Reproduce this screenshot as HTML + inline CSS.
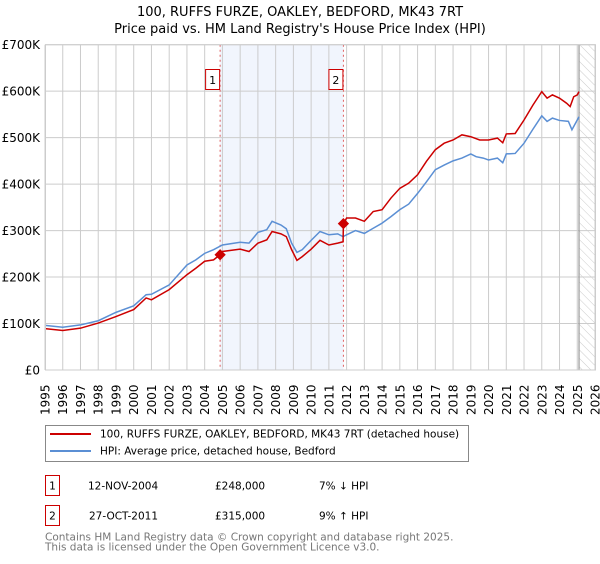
<!DOCTYPE html>
<html><head><meta charset="utf-8"><style>
body{margin:0;background:#fff;font-family:"DejaVu Sans","Liberation Sans",sans-serif;}
svg text{font-family:"DejaVu Sans","Liberation Sans",sans-serif;}
</style></head><body>
<svg id="chart" width="600" height="560" viewBox="0 0 600 560" xmlns="http://www.w3.org/2000/svg">
<defs><pattern id="hatch" width="6" height="6" patternUnits="userSpaceOnUse" patternTransform="rotate(-45)"><line x1="0" y1="0" x2="0" y2="6" stroke="#ccc" stroke-width="1"/></pattern></defs>
<text x="300" y="16" text-anchor="middle" font-size="13">100, RUFFS FURZE, OAKLEY, BEDFORD, MK43 7RT</text>
<text x="300" y="33" text-anchor="middle" font-size="13">Price paid vs. HM Land Registry's House Price Index (HPI)</text>
<g id="plot"></g>
<rect x="45.5" y="425.5" width="423" height="36" fill="#fff" stroke="#888"/>
<line x1="50" y1="434" x2="91" y2="434" stroke="#cc0000" stroke-width="2"/>
<text x="100" y="437.5" font-size="10.5">100, RUFFS FURZE, OAKLEY, BEDFORD, MK43 7RT (detached house)</text>
<line x1="50" y1="451" x2="91" y2="451" stroke="#5b8fd4" stroke-width="2"/>
<text x="100" y="454.5" font-size="10.5">HPI: Average price, detached house, Bedford</text>
<rect x="45.5" y="475.5" width="14" height="20" fill="#fff" stroke="#cc0000"/>
<text x="52.5" y="489.5" text-anchor="middle" font-size="10.5">1</text>
<text x="88" y="489.5" font-size="10.5">12-NOV-2004</text>
<text x="215" y="489.5" font-size="10.5">£248,000</text>
<text x="319" y="489.5" font-size="10.5">7% ↓ HPI</text>
<rect x="45.5" y="505.5" width="14" height="20" fill="#fff" stroke="#cc0000"/>
<text x="52.5" y="519.5" text-anchor="middle" font-size="10.5">2</text>
<text x="89" y="519.5" font-size="10.5">27-OCT-2011</text>
<text x="215" y="519.5" font-size="10.5">£315,000</text>
<text x="319" y="519.5" font-size="10.5">9% ↑ HPI</text>
<text x="45" y="540.5" font-size="10.5" fill="#777">Contains HM Land Registry data © Crown copyright and database right 2025.</text>
<text x="45" y="550.5" font-size="10.5" fill="#777">This data is licensed under the Open Government Licence v3.0.</text>
</svg>
<script>
const hpiYears=[1995,1996,1997,1998,1999,2000,2000.7,2001,2002,2003,2003.5,2004,2004.5,2005,2006,2006.5,2007,2007.5,2007.8,2008.3,2008.6,2008.9,2009.2,2009.5,2010,2010.5,2011,2011.5,2011.8,2012,2012.5,2013,2013.5,2014,2014.5,2015,2015.5,2016,2016.5,2017,2017.5,2018,2018.5,2019,2019.3,2019.7,2020,2020.5,2020.8,2021,2021.5,2022,2022.5,2023,2023.3,2023.6,2024,2024.5,2024.7,2025,2025.1];
const hpiValues=[96,92,97,106,124,138,162,163,183,226,237,251,259,269,275,273,296,302,320,312,304,273,253,259,279,298,291,293,287,291,300,294,305,316,330,345,357,380,405,431,441,450,456,465,459,456,452,456,446,465,466,488,518,547,535,542,537,535,517,538,545];
const propYears=[1995,1996,1997,1998,1999,2000,2000.7,2001,2002,2003,2003.5,2004,2004.5,2004.87,2005,2006,2006.5,2007,2007.5,2007.8,2008.3,2008.6,2008.9,2009.2,2009.5,2010,2010.5,2011,2011.5,2011.8,2011.82,2012,2012.5,2013,2013.5,2014,2014.5,2015,2015.5,2016,2016.5,2017,2017.5,2018,2018.5,2019,2019.5,2020,2020.5,2020.8,2021,2021.5,2022,2022.5,2023,2023.3,2023.6,2024,2024.4,2024.6,2024.8,2025,2025.1];
const propValues=[89,85,90,101,115,130,155,151,173,205,219,234,237,248,255,260,255,273,280,298,293,287,259,236,244,260,279,269,273,276,315,327,327,320,341,345,370,391,402,420,449,474,488,495,506,502,495,495,499,489,508,509,538,570,599,585,592,585,574,567,588,592,599];
const saleYears=[2004.87,2011.82];
const saleValues=[248,315];
const saleLabels=["1","2"];
const yTicks=[0,100,200,300,400,500,600,700];
const yTickLabels=["£0","£100K","£200K","£300K","£400K","£500K","£600K","£700K"];
const xTicks=[1995,1996,1997,1998,1999,2000,2001,2002,2003,2004,2005,2006,2007,2008,2009,2010,2011,2012,2013,2014,2015,2016,2017,2018,2019,2020,2021,2022,2023,2024,2025,2026];
const dataEnd=2025.1;

const L=45,R=595,T=44.7,B=370,X0=1995,X1=2026,YMAX=700;
const sx=v=>L+(v-X0)/(X1-X0)*(R-L);
const sy=v=>B-v/YMAX*(B-T);
const NS="http://www.w3.org/2000/svg";
const g=document.getElementById('plot');
function mk(tag,attrs){const e=document.createElementNS(NS,tag);for(const k in attrs)e.setAttribute(k,attrs[k]);g.appendChild(e);return e;}

let e=mk('rect',{x:sx(saleYears[0]),y:T,width:sx(saleYears[1])-sx(saleYears[0]),height:B-T,fill:'#eef3fc',opacity:0.8});


e=mk('rect',{x:sx(dataEnd),y:T,width:R-sx(dataEnd),height:B-T,fill:'url(#hatch)'});


xTicks.forEach((t,i)=>{
  const l=mk('line',{x1:sx(t),x2:sx(t),y1:T,y2:B,stroke:'#ccc','stroke-width':1});
  
  
  const tx=mk('text',{transform:`translate(${sx(t)+4.5},${B+45}) rotate(-90)`,'font-size':12});
  tx.textContent=t;
  
  
});
yTicks.forEach((t,i)=>{
  const l=mk('line',{x1:L,x2:R,y1:sy(t),y2:sy(t),stroke:'#ccc','stroke-width':1});
  
  
  const tx=mk('text',{x:L-5,y:sy(t)+4.5,'text-anchor':'end','font-size':12});
  tx.textContent=yTickLabels[i];
  
  
});
e=mk('line',{x1:sx(dataEnd),x2:sx(dataEnd),y1:T,y2:B,stroke:'#999','stroke-width':1.2});


saleYears.forEach((y,i)=>{
  const l=mk('line',{x1:sx(y),x2:sx(y),y1:T,y2:B,stroke:'#e06060','stroke-width':1,'stroke-dasharray':'2,3'});
  
  
  const r=mk('rect',{x:sx(y)-14.5,y:69.5,width:14,height:20,fill:'#fff',stroke:'#cc0000'});
  
  
  const t=mk('text',{x:sx(y)-7.5,y:84,'text-anchor':'middle','font-size':11});
  t.textContent=saleLabels[i];
  
  
});
e=mk('polyline',{points:hpiYears.map((y,i)=>sx(y)+','+sy(hpiValues[i])).join(' '),fill:'none',stroke:'#5b8fd4','stroke-width':1.5});


e=mk('polyline',{points:propYears.map((y,i)=>sx(y)+','+sy(propValues[i])).join(' '),fill:'none',stroke:'#cc0000','stroke-width':1.5});


saleYears.forEach((y,i)=>{
  const d=mk('rect',{x:sx(y)-4,y:sy(saleValues[i])-4,width:8,height:8,fill:'#cc0000',transform:`rotate(45 ${sx(y)} ${sy(saleValues[i])})`});
  
  
});
e=mk('rect',{x:L+0.5,y:T,width:R-L,height:B-T,fill:'none',stroke:'#ccc'});


</script>
</body></html>
